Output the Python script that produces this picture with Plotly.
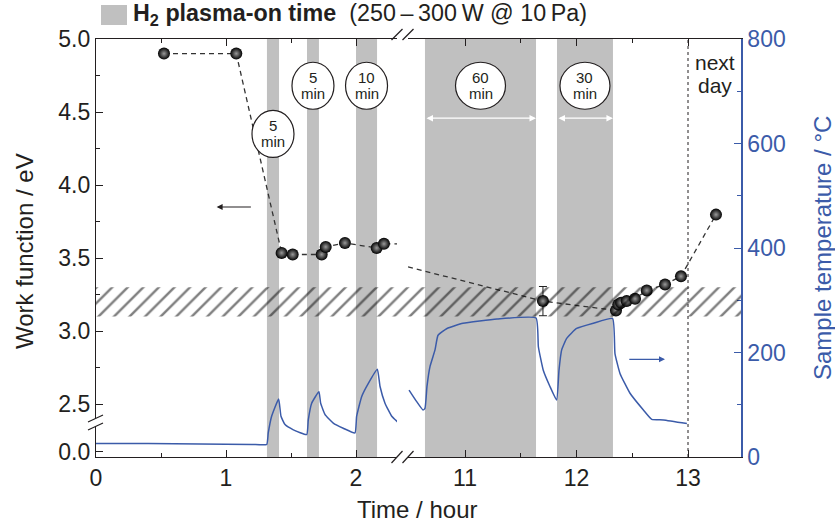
import plotly.graph_objects as go

FONT = "Liberation Sans, Arial, Helvetica, sans-serif"
INK = "#231f20"
BLUE = "#3b5ba9"
GRAY = "#c0c0c0"

# ---------------- data ----------------
# work function (eV) vs time (hour); segment A = day part before the axis break
wf_a_hours = [0.523, 1.079, 1.428, 1.513, 1.736, 1.767, 1.915, 2.159, 2.215]
wf_a_ev = [4.90, 4.90, 3.536, 3.525, 3.525, 3.577, 3.604, 3.570, 3.598]
# segment B = after the axis break
wf_b_hours = [11.699, 12.354, 12.375, 12.400, 12.450, 12.525, 12.630, 12.794, 12.937, 13.251]
wf_b_ev = [3.206, 3.142, 3.183, 3.195, 3.206, 3.222, 3.279, 3.320, 3.376, 3.798]
wf_b_err = [0.10, 0, 0, 0, 0, 0, 0, 0, 0, 0]
# dashed trend line continuing across the break
trend_a_hours = [2.215, 2.32]
trend_a_ev = [3.598, 3.598]
trend_b_hours = [10.489, 11.699]
trend_b_ev = [3.44, 3.206]

# sample temperature (deg C)
temp_a_hours = [0.00, 0.40, 0.80, 1.20, 1.313, 1.325, 1.351, 1.405, 1.423, 1.454, 1.518, 1.621,
                1.633, 1.659, 1.715, 1.728, 1.762, 1.825, 1.902, 1.992, 2.005, 2.044, 2.095,
                2.164, 2.185, 2.223, 2.275, 2.325]
temp_a_c = [26, 26, 25, 24, 24, 46, 78, 111, 78, 62, 52, 43,
            71, 103, 125, 103, 81, 65, 55, 46, 78, 116, 141,
            168, 135, 103, 78, 66]
temp_b_hours = [10.498, 10.56, 10.623, 10.641, 10.659, 10.686, 10.731, 10.758, 10.839, 10.982,
                11.287, 11.637, 11.658, 11.702, 11.762, 11.822, 11.843, 11.867, 11.912, 12.001,
                12.151, 12.324, 12.345, 12.39, 12.48, 12.60, 12.675, 12.78, 12.99]
temp_b_c = [128, 108, 90, 93, 135, 173, 205, 233, 246, 256,
            264, 266, 211, 166, 135, 109, 166, 205, 227, 246,
            256, 265, 198, 160, 122, 90, 72, 71, 64]

# H2 plasma-on intervals (hour) and durations (min)
plasma_a = [(1.315, 1.408), (1.623, 1.715), (2.000, 2.162)]
plasma_b = [(10.641, 11.637), (11.825, 12.327)]
plasma_minutes = ["5", "5", "10", "60", "30"]
label_ev = [4.35, 4.68, 4.68, 4.68, 4.68]

hatch_band_ev = [3.1, 3.3]
next_day_hour = 13.0

x_ticks_a = [0, 1, 2]
x_ticks_b = [11, 12, 13]
y_ticks = [2.177, 2.5, 3.0, 3.5, 4.0, 4.5, 5.0]
y_ticktext = ["0.0", "2.5", "3.0", "3.5", "4.0", "4.5", "5.0"]
t_ticks = [0, 200, 400, 600, 800]

# ---------------- geometry ----------------
W, H = 835, 525
ML, MR, MT, MB = 96, 94, 39, 68
PW, PH = W - ML - MR, H - MT - MB


def pxx(x):
    return (x - ML) / PW


def pxy(y):
    return (H - MB - y) / PH


XA_END = pxx(397)
XB_START = pxx(408)

fig = go.Figure()

# hatched band (full width, hidden helper axis)
fig.add_trace(go.Scatter(
    x=[0, 1, 1, 0, 0],
    y=[hatch_band_ev[0], hatch_band_ev[0], hatch_band_ev[1], hatch_band_ev[1], hatch_band_ev[0]],
    xaxis="x3", yaxis="y", mode="lines", line=dict(width=0),
    fill="toself", fillcolor="rgba(0,0,0,0)",
    fillpattern=dict(shape="/", fgcolor="#000000", bgcolor="rgba(0,0,0,0)", size=11, solidity=0.22),
    hoverinfo="skip", showlegend=False))

# temperature lines
fig.add_trace(go.Scatter(x=temp_a_hours, y=temp_a_c, xaxis="x", yaxis="y2", mode="lines",
                         line=dict(color=BLUE, width=1.5, shape="spline", smoothing=0.4),
                         showlegend=False))
fig.add_trace(go.Scatter(x=temp_b_hours, y=temp_b_c, xaxis="x2", yaxis="y2", mode="lines",
                         line=dict(color=BLUE, width=1.5, shape="spline", smoothing=0.4),
                         showlegend=False))

# dashed trend lines
dash = dict(color="#333333", width=1.3, dash="5px,4px")
fig.add_trace(go.Scatter(x=wf_a_hours + trend_a_hours[1:], y=wf_a_ev + trend_a_ev[1:],
                         xaxis="x", yaxis="y", mode="lines", line=dash, showlegend=False))
fig.add_trace(go.Scatter(x=trend_b_hours[:1] + wf_b_hours, y=trend_b_ev[:1] + wf_b_ev,
                         xaxis="x2", yaxis="y", mode="lines", line=dash, showlegend=False))

marker = dict(size=12, color="black", gradient=dict(type="radial", color="#9a9a9a"),
              line=dict(width=0))
fig.add_trace(go.Scatter(x=wf_a_hours, y=wf_a_ev, xaxis="x", yaxis="y", mode="markers",
                         marker=marker, showlegend=False))
fig.add_trace(go.Scatter(x=wf_b_hours, y=wf_b_ev, xaxis="x2", yaxis="y", mode="markers",
                         marker=marker, showlegend=False,
                         error_y=dict(type="data", array=wf_b_err, visible=True,
                                      color="#222222", thickness=1, width=4)))

# plasma bands, labels, span arrows
bands = [("x", b) for b in plasma_a] + [("x2", b) for b in plasma_b]
for i, (xr, (a, b)) in enumerate(bands):
    fig.add_shape(type="rect", xref=xr, yref="paper", x0=a, x1=b, y0=0, y1=1,
                  fillcolor=GRAY, line_width=0, layer="below")
    c = (a + b) / 2
    hw = 21 if xr == "x" else 25
    fig.add_shape(type="circle", xref=xr, yref="y", xsizemode="pixel", ysizemode="pixel",
                  xanchor=c, yanchor=label_ev[i], x0=-hw, x1=hw, y0=-23.5, y1=23.5,
                  fillcolor="white", line=dict(color=INK, width=1.2), layer="above")
    for txt, ys in ((plasma_minutes[i], 8), ("min", -8)):
        fig.add_annotation(x=c, y=label_ev[i], xref=xr, yref="y", showarrow=False,
                           xanchor="center", yanchor="middle", yshift=ys, text=txt,
                           font=dict(family=FONT, size=15, color=INK))
    if xr == "x2":
        fig.add_annotation(x=b, y=4.458, ax=a, ay=4.458, xref=xr, yref="y", axref=xr, ayref="y",
                           text="", showarrow=True, arrowside="end+start", arrowhead=2,
                           arrowsize=1, arrowwidth=1.3, arrowcolor="white")

# next day line
fig.add_shape(type="line", xref="x2", yref="paper", x0=next_day_hour, x1=next_day_hour,
              y0=0, y1=1, line=dict(color=INK, width=1, dash="dot"))
for txt, ys in (("next", 12), ("day", -11)):
    fig.add_annotation(x=13.24, y=4.76, xref="x2", yref="y", text=txt, showarrow=False,
                       xanchor="center", yanchor="middle", yshift=ys,
                       font=dict(family=FONT, size=21, color=INK))

# axis pointer arrows
fig.add_annotation(x=0.928, y=3.85, ax=1.203, ay=3.85, xref="x", yref="y", axref="x", ayref="y",
                   text="", showarrow=True, arrowhead=2, arrowsize=1, arrowwidth=1.2,
                   arrowcolor=INK)
fig.add_annotation(x=12.794, y=187, ax=12.46, ay=187, xref="x2", yref="y2", axref="x2",
                   ayref="y2", text="", showarrow=True, arrowhead=2, arrowsize=1,
                   arrowwidth=1.2, arrowcolor=BLUE)

# axis break marks
gx = (397 + 408) / 2
brk = dict(color=INK, width=1.2)
for yb in (H - MB, MT):
    y_lo = yb + 6 if yb == H - MB else yb + 1
    y_hi = yb - 6 if yb == H - MB else yb - 10
    for off in (-11, 0):
        fig.add_shape(type="line", xref="paper", yref="paper",
                      x0=pxx(gx + off), x1=pxx(gx + off + 11), y0=pxy(y_lo), y1=pxy(y_hi),
                      line=brk)
# left y-axis break
fig.add_shape(type="rect", xref="paper", yref="paper", x0=pxx(93), x1=pxx(99),
              y0=pxy(426), y1=pxy(419), fillcolor="white", line_width=0, layer="above")
for yy in (422, 430):
    fig.add_shape(type="line", xref="paper", yref="paper", x0=pxx(88), x1=pxx(103),
                  y0=pxy(yy), y1=pxy(yy - 7), line=brk)

# legend
fig.add_shape(type="rect", xref="paper", yref="paper", x0=pxx(101), x1=pxx(127),
              y0=pxy(25), y1=pxy(5), fillcolor=GRAY, line_width=0)
fig.add_annotation(x=pxx(131), y=pxy(15), xref="paper", yref="paper", xanchor="left",
                   yanchor="middle", showarrow=False,
                   text="<b>H<sub>2</sub> plasma-on time</b>\u00a0 (250\u2009\u2013\u2009300\u2009W @ 10\u2009Pa)",
                   font=dict(family=FONT, size=23.3, color=INK))

# axis titles
fig.add_annotation(x=pxx(417), y=pxy(509), xref="paper", yref="paper", showarrow=False,
                   xanchor="center", yanchor="middle",
                   text="Time / hour", font=dict(family=FONT, size=24, color=INK))
fig.add_annotation(x=pxx(24), y=pxy(251), xref="paper", yref="paper", showarrow=False,
                   xanchor="center", yanchor="middle",
                   text="Work function / eV", textangle=-90,
                   font=dict(family=FONT, size=24, color=INK))
fig.add_annotation(x=pxx(822), y=pxy(248), xref="paper", yref="paper", showarrow=False,
                   xanchor="center", yanchor="middle",
                   text="Sample temperature / \u00b0C", textangle=-90,
                   font=dict(family=FONT, size=24, color=BLUE))

common = dict(showline=True, linecolor=INK, linewidth=1.2, ticks="inside", ticklen=7,
              tickwidth=1.2, tickcolor=INK, showgrid=False, zeroline=False,
              tickfont=dict(family=FONT, size=23, color=INK))

fig.update_layout(
    width=W, height=H, margin=dict(l=ML, r=MR, t=MT, b=MB),
    paper_bgcolor="white", plot_bgcolor="rgba(0,0,0,0)", showlegend=False,
    xaxis=dict(domain=[0, XA_END], range=[0, (397 - ML) / 130], tickvals=x_ticks_a,
               minor=dict(tickmode="array", tickvals=[0.5, 1.5], ticks="inside", ticklen=4,
                          tickcolor=INK),
               mirror="ticks", anchor="y", **common),
    xaxis2=dict(domain=[XB_START, 1], range=[13 - (688 - 408) / 111.5, 13 + (741 - 688) / 111.5],
                tickvals=x_ticks_b,
                minor=dict(tickmode="array", tickvals=[11.5, 12.5], ticks="inside", ticklen=4,
                           tickcolor=INK),
                mirror="ticks", anchor="y", **common),
    xaxis3=dict(domain=[0, 1], range=[0, 1], visible=False, anchor="y"),
    yaxis=dict(domain=[0, 1], range=[2.139, 5.0], tickvals=y_ticks, ticktext=y_ticktext,
               minor=dict(tickmode="array", tickvals=[2.75, 3.25, 3.75, 4.25, 4.75],
                          ticks="inside", ticklen=4, tickcolor=INK),
               anchor="x", **common),
    yaxis2=dict(overlaying="y", side="right", anchor="x2", range=[0, 800], tickvals=t_ticks,
                minor=dict(tickmode="array", tickvals=[100, 300, 500, 700], ticks="inside",
                           ticklen=4, tickcolor=BLUE),
                showline=True, linecolor=BLUE, linewidth=1.5, ticks="inside", ticklen=7,
                tickwidth=1.2, tickcolor=BLUE, showgrid=False, zeroline=False,
                tickfont=dict(family=FONT, size=23, color=BLUE)),
)

fig.write_html("out.html", config={"displayModeBar": False},
               post_script="document.body.style.margin='0';")
